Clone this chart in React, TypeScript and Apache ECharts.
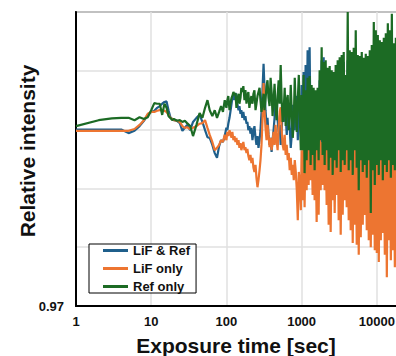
import React, { useEffect, useRef } from "react";
import * as echarts from "echarts";

// Exposure time [sec]
const TIME_S = [
  1, 2, 3, 4, 5, 6, 7, 8, 9, 10,
  11, 12, 13, 14, 15, 16, 17, 18, 19, 20,
  22, 24, 26, 28, 30, 33, 36, 40, 44, 48,
  52, 56, 60, 65, 70, 75, 80, 85, 90, 95,
  100, 103, 106, 110, 113, 117, 120, 124, 128, 132,
  136, 140, 145, 149, 154, 158, 163, 168, 174, 179,
  185, 190, 196, 202, 209, 215, 222, 229, 236, 244,
  251, 259, 267, 276, 284, 293, 302, 312, 321, 331,
  342, 352, 363, 375, 387, 399, 411, 424, 437, 451,
  465, 480, 495, 511, 527, 543, 560, 578, 596, 614,
  634, 654, 674, 695, 717, 740, 763, 787, 811, 837,
  863, 890, 918, 947, 977,
  1000, 1031, 1063, 1096, 1131, 1166, 1202, 1240, 1278, 1318,
  1359, 1402, 1445, 1490, 1537, 1585, 1634, 1685, 1738, 1792,
  1848, 1905, 1965, 2026, 2089, 2154, 2221, 2291, 2362, 2436,
  2512, 2590, 2671, 2754, 2840, 2929, 3020, 3114, 3211, 3311,
  3415, 3521, 3631, 3744, 3861, 3981, 4105, 4233, 4365, 4501,
  4642, 4786, 4936, 5090, 5248, 5412, 5581, 5754, 5934, 6119,
  6310, 6506, 6709, 6918, 7134, 7356, 7586, 7822, 8066, 8318,
  8577, 8845, 9120, 9405, 9698, 10000, 10312, 10633, 10965, 11307,
  11659, 12023, 12397, 12784, 13183, 13594, 14017, 14454, 14905, 15370,
  15849, 16343, 16853, 17378, 17920, 18478, 19055,
];

const LIF_REF = [
  1.0000, 1.0000, 1.0000, 1.0000, 0.9994, 0.9998, 1.0006, 1.0015, 1.0025, 1.0030,
  1.0032, 1.0037, 1.0040, 1.0044, 1.0047, 1.0048, 1.0033, 1.0021, 1.0018, 1.0016,
  1.0015, 1.0011, 0.9998, 1.0003, 1.0008, 0.9999, 1.0013, 1.0020, 1.0025, 1.0013,
  0.9999, 0.9987, 0.9986, 0.9974, 0.9960, 0.9952, 0.9972, 0.9982, 0.9979, 0.9989,
  1.0003, 0.9999, 1.0010, 1.0020, 1.0030, 1.0044, 1.0054, 1.0061, 1.0050, 1.0062,
  1.0057, 1.0044, 1.0033, 1.0040, 1.0027, 1.0033, 1.0020, 1.0030, 1.0016, 1.0023,
  1.0010, 1.0013, 0.9999, 1.0006, 0.9993, 1.0003, 0.9982, 0.9996, 1.0006, 0.9986,
  0.9974, 0.9989, 0.9969, 0.9982, 0.9999, 1.0030, 1.0067, 1.0112, 1.0071, 1.0033,
  1.0008, 1.0020, 0.9991, 0.9974, 0.9986, 0.9962, 0.9982, 0.9999, 1.0020, 1.0050,
  1.0030, 1.0016, 0.9996, 1.0008, 0.9974, 0.9999, 1.0030, 1.0013, 1.0050, 1.0025,
  0.9991, 1.0020, 1.0033, 1.0003, 0.9969, 0.9991, 1.0042, 1.0020, 0.9999, 1.0050,
  1.0057, 0.9982, 1.0016, 1.0042, 1.0008,
  1.0076, 0.9965, 1.0098, 0.9948, 1.0110, 0.9974, 1.0135, 0.9957, 1.0140, 0.9982,
  1.0067, 0.9948, 1.0059, 0.9965, 1.0050, 0.9974, 1.0059, 0.9948, 1.0084, 0.9965,
  1.0118, 0.9957, 1.0123, 0.9974, 1.0101, 0.9948, 1.0093, 0.9965, 1.0084, 0.9957,
  1.0076, 0.9974, 1.0088, 0.9948, 1.0098, 0.9965, 1.0101, 0.9952, 1.0110, 0.9974,
  1.0105, 0.9957, 1.0115, 0.9965, 1.0084, 0.9948, 1.0118, 0.9974, 1.0110, 0.9957,
  1.0115, 0.9965, 1.0118, 0.9948, 1.0127, 0.9965, 1.0110, 0.9940, 1.0108, 0.9965,
  1.0115, 0.9952, 1.0105, 0.9974, 1.0118, 0.9948, 1.0110, 0.9965, 1.0122, 0.9940,
  1.0127, 0.9965, 1.0135, 0.9948, 1.0139, 0.9965, 1.0132, 0.9952, 1.0127, 0.9969,
  1.0135, 0.9945, 1.0132, 0.9965, 1.0139, 0.9948, 1.0144, 0.9965, 1.0135, 0.9940,
  1.0149, 0.9965, 1.0127, 0.9952, 1.0135, 0.9965, 1.0132,
];

const LIF_ONLY = [
  0.9998, 0.9998, 0.9998, 0.9998, 0.9998, 1.0001, 1.0008, 1.0016, 1.0027, 1.0030,
  1.0030, 1.0032, 1.0033, 1.0033, 1.0032, 1.0030, 1.0025, 1.0020, 1.0018, 1.0016,
  1.0015, 1.0013, 1.0006, 1.0003, 1.0004, 1.0001, 1.0003, 1.0006, 1.0010, 1.0011,
  1.0016, 1.0003, 0.9991, 0.9979, 0.9965, 0.9969, 0.9974, 0.9982, 0.9979, 0.9991,
  0.9982, 0.9996, 0.9989, 0.9999, 0.9993, 0.9986, 0.9996, 0.9982, 0.9989, 0.9979,
  0.9986, 0.9974, 0.9982, 0.9969, 0.9977, 0.9965, 0.9972, 0.9979, 0.9965, 0.9970,
  0.9960, 0.9967, 0.9955, 0.9948, 0.9957, 0.9943, 0.9952, 0.9935, 0.9928, 0.9940,
  0.9918, 0.9902, 0.9914, 0.9931, 0.9948, 0.9974, 1.0016, 1.0079, 1.0033, 1.0003,
  0.9982, 1.0008, 0.9991, 0.9970, 0.9986, 0.9965, 0.9979, 0.9996, 0.9974, 1.0008,
  0.9982, 0.9965, 1.0003, 1.0030, 1.0038, 0.9999, 0.9974, 0.9965, 0.9991, 0.9957,
  0.9974, 0.9948, 0.9960, 0.9931, 0.9952, 0.9923, 0.9940, 0.9914, 0.9948, 0.9928,
  0.9897, 0.9846, 0.9928, 0.9906, 0.9863,
  0.9965, 0.9880, 0.9982, 0.9868, 0.9991, 0.9897, 0.9974, 0.9906, 0.9999, 0.9914,
  0.9982, 0.9889, 0.9991, 0.9880, 0.9974, 0.9843, 0.9986, 0.9855, 0.9999, 0.9897,
  0.9979, 0.9906, 0.9991, 0.9897, 0.9982, 0.9872, 0.9996, 0.9838, 0.9974, 0.9826,
  0.9986, 0.9880, 0.9999, 0.9858, 0.9979, 0.9889, 0.9989, 0.9846, 1.0003, 0.9821,
  0.9982, 0.9855, 0.9993, 0.9880, 0.9974, 0.9868, 0.9999, 0.9846, 0.9982, 0.9829,
  0.9991, 0.9807, 0.9974, 0.9838, 0.9996, 0.9804, 0.9982, 0.9787, 0.9989, 0.9817,
  0.9974, 0.9838, 0.9999, 0.9855, 0.9979, 0.9829, 0.9991, 0.9812, 0.9982, 0.9800,
  0.9996, 0.9821, 0.9974, 0.9795, 0.9986, 0.9790, 0.9999, 0.9775, 0.9979, 0.9812,
  0.9991, 0.9824, 0.9974, 0.9787, 0.9996, 0.9749, 0.9982, 0.9812, 0.9989, 0.9778,
  0.9974, 0.9795, 0.9999, 0.9766, 0.9982, 0.9795, 0.9986,
];

const REF_ONLY = [
  1.0006, 1.0016, 1.0019, 1.0020, 1.0020, 1.0016, 1.0021, 1.0018, 1.0021, 1.0033,
  1.0045, 1.0044, 1.0044, 1.0025, 1.0044, 1.0037, 1.0023, 1.0020, 1.0016, 1.0018,
  1.0015, 1.0016, 1.0013, 1.0015, 1.0011, 1.0006, 0.9989, 1.0008, 1.0028, 1.0020,
  1.0037, 1.0050, 1.0033, 1.0023, 1.0033, 1.0020, 1.0030, 1.0040, 1.0030, 1.0050,
  1.0037, 1.0050, 1.0057, 1.0033, 1.0044, 1.0054, 1.0057, 1.0064, 1.0059, 1.0062,
  1.0037, 1.0050, 1.0061, 1.0044, 1.0054, 1.0071, 1.0064, 1.0074, 1.0050, 1.0067,
  1.0044, 1.0057, 1.0064, 1.0037, 1.0050, 1.0057, 1.0044, 1.0061, 1.0067, 1.0033,
  1.0044, 1.0057, 1.0064, 1.0071, 1.0050, 1.0030, 1.0044, 1.0061, 1.0033, 1.0050,
  1.0074, 1.0084, 1.0054, 1.0040, 1.0088, 1.0064, 1.0023, 1.0050, 1.0078, 1.0037,
  1.0016, 1.0057, 1.0084, 1.0044, 1.0110, 1.0050, 1.0013, 1.0033, 1.0071, 1.0006,
  1.0050, 1.0059, 0.9999, 1.0020, 1.0076, 1.0030, 0.9986, 1.0016, 1.0088, 1.0033,
  0.9996, 1.0050, 1.0093, 1.0020, 0.9965,
  1.0059, 0.9965, 1.0093, 0.9926, 1.0067, 0.9948, 1.0088, 0.9965, 1.0091, 0.9940,
  1.0076, 0.9957, 1.0071, 0.9931, 1.0067, 0.9965, 1.0071, 0.9948, 1.0101, 0.9982,
  1.0140, 0.9957, 1.0115, 0.9940, 1.0118, 0.9965, 1.0105, 0.9931, 1.0108, 0.9952,
  1.0101, 0.9923, 1.0098, 0.9948, 1.0110, 0.9935, 1.0118, 0.9965, 1.0123, 0.9928,
  1.0127, 0.9948, 1.0132, 0.9940, 1.0093, 0.9965, 1.0200, 0.9931, 1.0135, 0.9948,
  1.0132, 0.9923, 1.0139, 0.9965, 1.0169, 0.9935, 1.0127, 0.9897, 1.0125, 0.9948,
  1.0132, 0.9928, 1.0122, 0.9940, 1.0129, 0.9918, 1.0125, 0.9948, 1.0135, 0.9858,
  1.0144, 0.9931, 1.0183, 0.9906, 1.0169, 0.9940, 1.0161, 0.9923, 1.0152, 0.9948,
  1.0149, 0.9914, 1.0156, 0.9940, 1.0164, 0.9928, 1.0181, 0.9948, 1.0169, 0.9918,
  1.0197, 0.9940, 1.0147, 0.9931, 1.0156, 0.9948, 1.0152,
];

const SERIES_NAMES = ["LiF & Ref", "LiF only", "Ref only"];
const COLORS = ["#1f5f8b", "#ed7531", "#1c6b24"];
const X_TICK_LABELS = [1, 10, 100, 1000, 10000];
const Y_TICK_LABELS = [0.97];
const X_NAME = "Exposure time [sec]";
const Y_NAME = "Relative intensity";

export default function App() {
  const ref = useRef<HTMLDivElement>(null);

  useEffect(() => {
    const chart = echarts.init(ref.current!, null, { renderer: "svg" });
    const font = "'Liberation Sans', Arial, Helvetica, sans-serif";
    const values = [LIF_REF, LIF_ONLY, REF_ONLY];
    chart.setOption({
      animation: false,
      backgroundColor: "#fff",
      grid: {
        left: 76,
        top: 12,
        width: 376,
        height: 294,
        show: true,
        borderColor: "#666",
        borderWidth: 2,
        backgroundColor: "transparent",
      },
      xAxis: {
        type: "log",
        logBase: 10,
        min: 1,
        max: 100000,
        axisLine: { show: true, onZero: false, lineStyle: { color: "#000", width: 2 } },
        axisTick: { show: false },
        splitLine: { show: true, lineStyle: { color: "#e0e0e0", width: 1.5 } },
        axisLabel: {
          formatter: (v: number) => {
            const r = Math.round(v);
            return X_TICK_LABELS.includes(r) ? String(r) : "";
          },
          fontSize: 13,
          fontWeight: "bold",
          fontFamily: font,
          color: "#111",
          margin: 9,
        },
      },
      yAxis: {
        type: "value",
        min: 0.97,
        max: 1.02,
        interval: 0.01,
        axisLine: { show: true, lineStyle: { color: "#000", width: 2 } },
        axisTick: { show: false },
        splitLine: { show: true, lineStyle: { color: "#e0e0e0", width: 1.5 } },
        axisLabel: {
          formatter: (v: number) =>
            Y_TICK_LABELS.some((y) => Math.abs(y - v) < 1e-6) ? v.toFixed(2) : "",
          fontSize: 13,
          fontWeight: "bold",
          fontFamily: font,
          color: "#111",
          margin: 12,
        },
      },
      legend: {
        orient: "vertical",
        left: 89,
        top: 244,
        padding: [0, 6, 0, 14],
        itemGap: 5,
        itemWidth: 25,
        itemHeight: 3,
        icon: "rect",
        borderColor: "#000",
        borderWidth: 1,
        backgroundColor: "#fff",
        textStyle: {
          fontSize: 13,
          fontWeight: "bold",
          fontFamily: font,
          color: "#111",
          lineHeight: 12,
        },
        data: SERIES_NAMES,
      },
      graphic: [
        {
          type: "text",
          x: 27,
          y: 151,
          rotation: Math.PI / 2,
          style: {
            text: Y_NAME,
            fontSize: 21,
            fontWeight: "bold",
            fontFamily: font,
            fill: "#111",
            align: "center",
            verticalAlign: "middle",
          },
        },
        {
          type: "text",
          x: 236,
          y: 345,
          style: {
            text: X_NAME,
            fontSize: 21,
            fontWeight: "bold",
            fontFamily: font,
            fill: "#111",
            align: "center",
            verticalAlign: "middle",
          },
        },
      ],
      series: SERIES_NAMES.map((name, i) => ({
        name,
        type: "line",
        data: TIME_S.map((t, j) => [t, values[i][j]]),
        showSymbol: false,
        symbol: "none",
        lineStyle: { width: 2.2, color: COLORS[i] },
        itemStyle: { color: COLORS[i] },
        clip: true,
      })),
    });
    return () => chart.dispose();
  }, []);

  return (
    <div
      style={{
        position: "fixed",
        left: 0,
        top: 0,
        width: 396,
        height: 356,
        overflow: "hidden",
        background: "#fff",
      }}
    >
      <div ref={ref} style={{ width: 480, height: 356 }} />
    </div>
  );
}
